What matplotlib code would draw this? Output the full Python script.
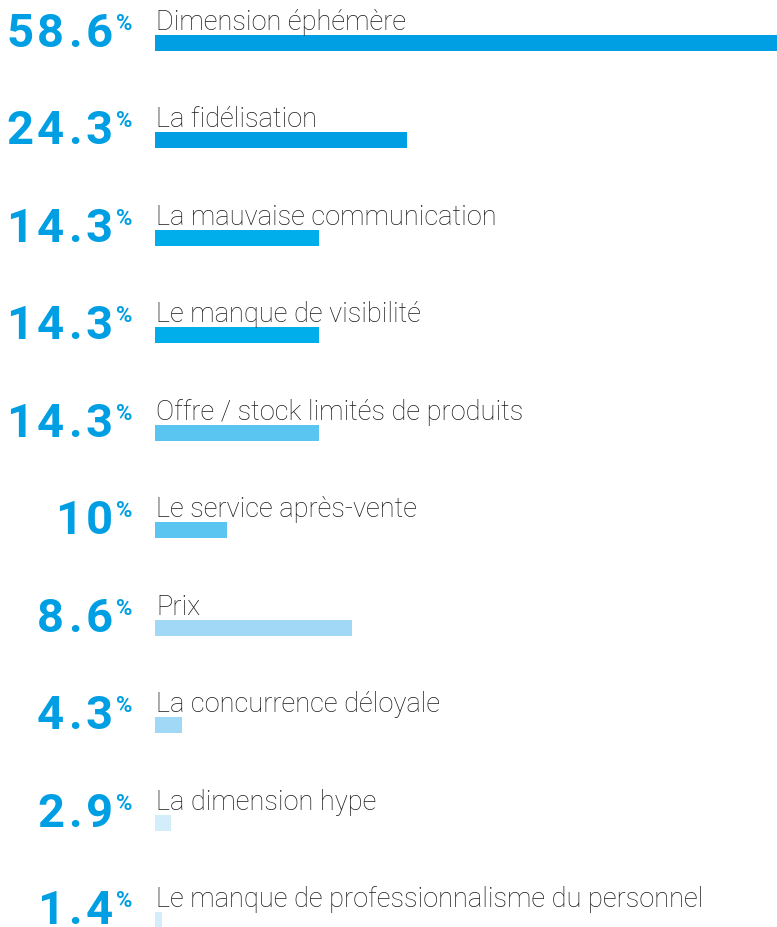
import matplotlib
matplotlib.use("Agg")
import matplotlib.pyplot as plt
from matplotlib.transforms import blended_transform_factory, offset_copy

labels = ["Dimension éphémère", "La fidélisation", "La mauvaise communication",
          "Le manque de visibilité", "Offre / stock limités de produits",
          "Le service après-vente", "Prix", "La concurrence déloyale",
          "La dimension hype", "Le manque de professionnalisme du personnel"]
pct_labels = ["58.6", "24.3", "14.3", "14.3", "14.3", "10", "8.6", "4.3", "2.9", "1.4"]
bar_values = [58.6, 23.75, 15.45, 15.45, 15.45, 6.8, 18.6, 2.55, 1.5, 0.66]
bar_colors = ["#009FE3", "#009FE3", "#00AEEC", "#00AEEC", "#5BC5F2",
              "#5BC5F2", "#A0D8F5", "#A0D8F5", "#D4EDFB", "#D4EDFB"]

W, H, DPI = 777, 928, 100
fig = plt.figure(figsize=(W / DPI, H / DPI), dpi=DPI)
ax = fig.add_axes([155 / W, 0, 1 - 155 / W, 1])
ax.set_xlim(0, max(bar_values))
ax.set_ylim(H, 0)
ax.axis("off")

first_top, step, bh = 36, 97.44, 16
tops = [first_top + i * step for i in range(len(labels))]
ax.barh([t + bh / 2 for t in tops], bar_values, height=bh, color=bar_colors,
        left=0, align="center")

tr = blended_transform_factory(fig.transFigure, ax.transData)
renderer = fig.canvas.get_renderer()
track = 4.0  # extra pixels between digits
num_style = dict(fontsize=34, family="Roboto", weight="bold", color="#009FE3")

for i, t in enumerate(tops):
    ax.text(156 / W, t - 6, labels[i], transform=tr, ha="left", va="baseline",
            fontsize=19.6, family="Roboto", weight="light", color="#1a1a1a")
    # number drawn char by char (right to left) with letter spacing
    shift = 0.0
    for ch in reversed(pct_labels[i]):
        trans = offset_copy(tr, fig=fig, x=-shift * 72 / DPI, y=0, units="points")
        txt = ax.text(113 / W, t + 11, ch, transform=trans, ha="right",
                      va="baseline", **num_style)
        wpx = txt.get_window_extent(renderer).width
        shift += wpx + track
    ax.text(116 / W, t - 6, "%", transform=tr, ha="left", va="baseline",
            fontsize=16, family="Roboto", weight="bold", color="#009FE3")

fig.savefig("out.png", dpi=DPI)
